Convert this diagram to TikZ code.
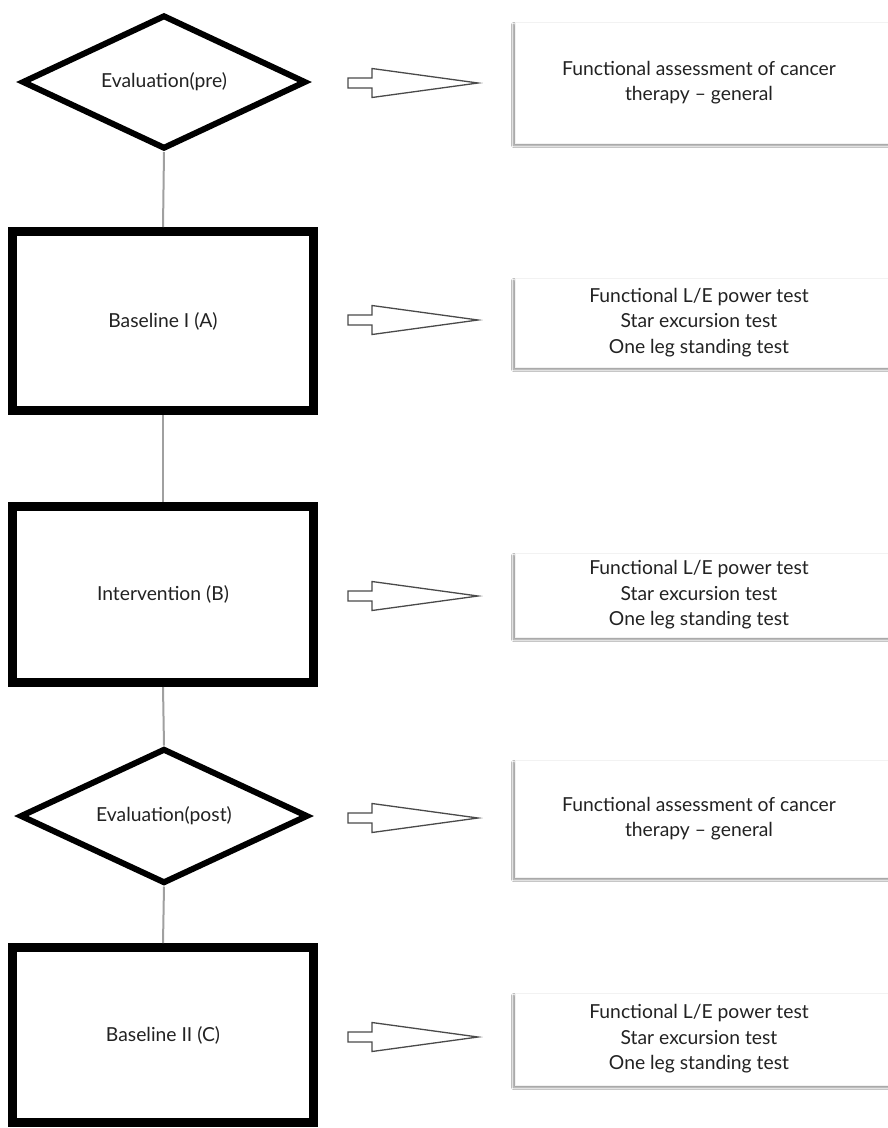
\documentclass[tikz,border=0pt]{standalone}
\usepackage{fontspec}
\setmainfont{Lato}
\usetikzlibrary{shapes.geometric,shadows.blur}
\definecolor{txt}{HTML}{222222}
\definecolor{conn}{HTML}{A0A0A0}
\definecolor{arr}{HTML}{4A4A4A}
\tikzset{
  every node/.style={font=\fontsize{19.3}{25.5}\selectfont, text=txt},
  dia/.style={diamond, aspect=2.1, draw=black, line width=6pt, fill=white, inner sep=0pt, line join=miter},
  stage/.style={rectangle, draw=black, line width=9pt, fill=white, minimum width=301pt},
  rbox/.style={rectangle, draw=gray!10, line width=0.6pt, fill=white, minimum width=380pt, align=center,
    blur shadow={shadow xshift=-1.5pt, shadow yshift=-2.5pt, shadow opacity=45, shadow blur radius=2pt, shadow blur steps=6}},
  link/.style={draw=conn, line width=2pt},
  arrowline/.style={draw=arr, line width=1.3pt, fill=white, line join=miter},
  blockarrow/.pic={
    \draw[arrowline] (0,-5) -- (24,-5) -- (24,-14.5) -- (130,0) -- (24,14.5) -- (24,5) -- (0,5) -- cycle;
  }
}
\begin{document}
\begin{tikzpicture}[x=1pt,y=-1pt]
\useasboundingbox (0,0) rectangle (888,1128);
\clip (0,0) rectangle (888,1128);
\fill[white] (0,0) rectangle (888,1128);

% left column
\node[dia, minimum width=284pt, minimum height=134pt] (d1) at (164,82) {Evaluation(pre)};
\node[stage, minimum height=179pt] (r1) at (163,321) {Baseline I (A)};
\node[stage, minimum height=176pt] (r2) at (163,594.5) {Intervention (B)};
\node[dia, minimum width=288pt, minimum height=135pt] (d2) at (164,816) {Evaluation(post)};
\node[stage, minimum height=175pt] (r3) at (163,1035) {Baseline II (C)};

\draw[link] (d1.south) -- (r1.north);
\draw[link] (r1.south) -- (r2.north);
\draw[link] (r2.south) -- (d2.north);
\draw[link] (d2.south) -- (r3.north);

% right column
\node[rbox, minimum height=121pt] (b1) at (705,82.5) {\hspace*{-12pt}Functional assessment of cancer\\\hspace*{-12pt}therapy – general};
\node[rbox, minimum height=89pt] (b2) at (705,322.5) {\hspace*{-12pt}Functional L/E power test\\\hspace*{-12pt}Star excursion test\\\hspace*{-12pt}One leg standing test};
\node[rbox, minimum height=84pt] (b3) at (705,595) {\hspace*{-12pt}Functional L/E power test\\\hspace*{-12pt}Star excursion test\\\hspace*{-12pt}One leg standing test};
\node[rbox, minimum height=117pt] (b4) at (705,818.5) {\hspace*{-12pt}Functional assessment of cancer\\\hspace*{-12pt}therapy – general};
\node[rbox, minimum height=92pt] (b5) at (705,1039) {\hspace*{-12pt}Functional L/E power test\\\hspace*{-12pt}Star excursion test\\\hspace*{-12pt}One leg standing test};

% block arrows
\pic (a1) at (348,83) {blockarrow};
\pic (a2) at (348,320) {blockarrow};
\pic (a3) at (348,596) {blockarrow};
\pic (a4) at (348,818) {blockarrow};
\pic (a5) at (348,1037) {blockarrow};
\end{tikzpicture}
\end{document}
